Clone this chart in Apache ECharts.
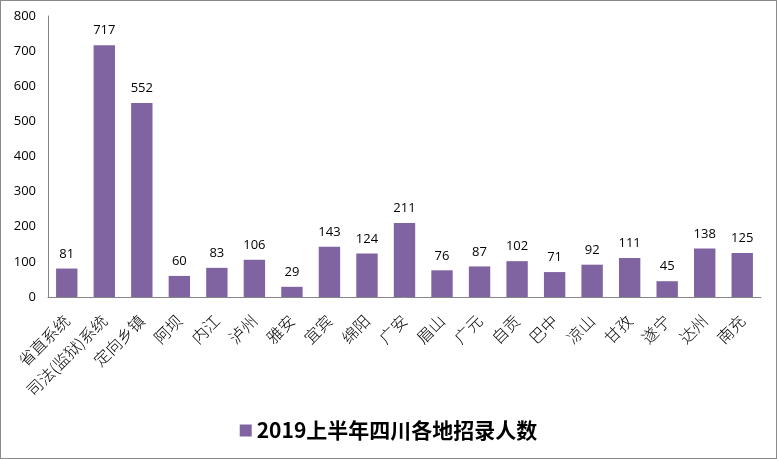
<!DOCTYPE html>
<html><head><meta charset="utf-8">
<script src="https://cdn.jsdelivr.net/npm/echarts@6/dist/echarts.min.js"></script>
<style>
html,body{margin:0;padding:0;background:#fff;}
#c{width:775px;height:457px;border:1px solid #8a8a8a;}
</style></head>
<body><div id="c"></div>
<script>
const categories = ['省直系统','司法(监狱)系统','定向乡镇','阿坝','内江','泸州','雅安','宜宾','绵阳','广安','眉山','广元','自贡','巴中','凉山','甘孜','遂宁','达州','南充'];
const values = [81,717,552,60,83,106,29,143,124,211,76,87,102,71,92,111,45,138,125];
const seriesName = '2019上半年四川各地招录人数';
const chart = echarts.init(document.getElementById('c'));
chart.setOption({
  animation:false,
  grid:{left:47,right:15,top:15,bottom:161},
  legend:{
    bottom:12,left:'center',
    itemWidth:12,itemHeight:12,icon:'rect',itemGap:6,
    textStyle:{fontFamily:'"Noto Sans CJK SC","Open Sans",sans-serif',fontSize:21,fontWeight:'bold',color:'#000'},
    data:[seriesName]
  },
  xAxis:{
    type:'category',data:categories,
    axisLine:{lineStyle:{color:'#868686'}},
    axisTick:{show:false},
    axisLabel:{rotate:45,interval:0,margin:21,fontSize:16,color:'#000',fontFamily:'"Noto Sans CJK SC",serif',fontWeight:300}
  },
  yAxis:{
    type:'value',min:0,max:800,interval:100,
    splitLine:{show:false},
    axisLine:{show:true,lineStyle:{color:'#868686'}},
    axisTick:{show:false},
    axisLabel:{fontSize:13,color:'#000',margin:12,fontFamily:'"Open Sans",Roboto,sans-serif'}
  },
  series:[{
    name:seriesName,type:'bar',data:values,barWidth:'57%',
    itemStyle:{color:'#8064A2'},
    label:{show:true,position:'top',distance:8,color:'#000',fontSize:13,fontFamily:'"Open Sans",Roboto,sans-serif'}
  }]
});
</script></body></html>
